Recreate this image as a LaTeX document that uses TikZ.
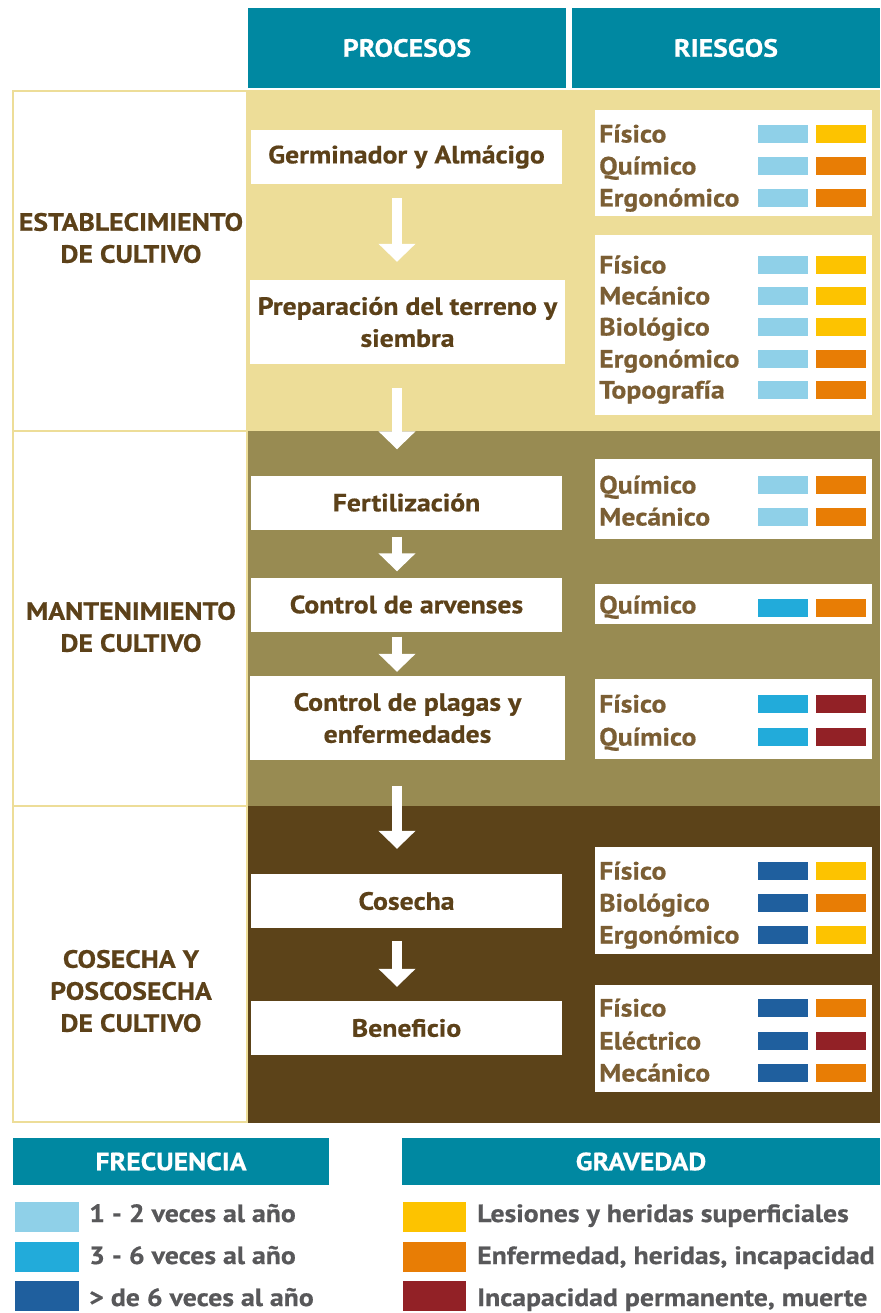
\documentclass[tikz,border=0pt]{standalone}
\usepackage{fontspec}
\setmainfont{PT Sans}[BoldFeatures={FakeStretch=1.11,FakeBold=0.6}]
\usetikzlibrary{arrows.meta}
\definecolor{teal}{HTML}{0088A1}
\definecolor{bandA}{HTML}{EDDD98}
\definecolor{bandB}{HTML}{988B52}
\definecolor{bandC}{HTML}{5C4319}
\definecolor{proctext}{HTML}{5C4119}
\definecolor{risktext}{HTML}{7B5E34}
\definecolor{legtext}{HTML}{58585A}
\definecolor{fqA}{HTML}{8FD0E8}
\definecolor{fqB}{HTML}{22ABDA}
\definecolor{fqC}{HTML}{1F5F9E}
\definecolor{svA}{HTML}{FDC300}
\definecolor{svB}{HTML}{E87D05}
\definecolor{svC}{HTML}{922126}
\newcommand\rrow[5]{%
  \node[risklbl] (rl#1) at (599,#1+17.5+#5) {#2};
  \fill[#3] (758,#1) rectangle (808,#1+18);
  \fill[#4] (816,#1) rectangle (866,#1+18);
}
\begin{document}
\begin{tikzpicture}[x=1pt,y=-1pt,
  every node/.style={font=\bfseries\fontsize{25}{32}\selectfont, inner sep=0pt},
  hdr/.style={fill=teal, text=white, minimum height=80},
  leghdr/.style={fill=teal, text=white, minimum height=47},
  proc/.style={fill=white, text=proctext, align=center, minimum width=311, minimum height=54},
  procbig/.style={proc, minimum width=315, minimum height=84},
  leftbox/.style={draw=bandA, line width=2pt, fill=white},
  lefttext/.style={text=proctext, align=center},
  riskbox/.style={fill=white},
  risklbl/.style={text=risktext, anchor=base west},
  legtxt/.style={text=legtext, anchor=base west, font=\bfseries\fontsize{25}{30}\selectfont},
  flowarrow/.style={draw=white, line width=10pt, -{Triangle[width=36pt,length=18pt]}}
]
\useasboundingbox (0,0) rectangle (880,1313);
% headers
\node[hdr, minimum width=318] (hproc) at (407,48) {PROCESOS};
\node[hdr, minimum width=308] (hrisk) at (726,48) {RIESGOS};
% bands
\fill[bandA] (248,90) rectangle (880,431);
\fill[bandB] (248,431) rectangle (880,806);
\fill[bandC] (248,806) rectangle (880,1123);
% left boxes
\draw[leftbox] (13,91) rectangle (247,431);
\draw[leftbox] (13,431) rectangle (247,806);
\draw[leftbox] (13,806) rectangle (247,1122);
\node[lefttext] (l1) at (131,238) {ESTABLECIMIENTO\\DE CULTIVO};
\node[lefttext] (l2) at (131,627) {MANTENIMIENTO\\DE CULTIVO};
\node[lefttext] (l3) at (131,991) {COSECHA Y\\POSCOSECHA\\DE CULTIVO};
% process boxes
\node[proc] (p1) at (406.5,157) {Germinador y Almácigo};
\node[procbig] (p2) at (407.5,322) {Preparación del terreno y\\siembra};
\node[proc] (p3) at (406.5,502.5) {Fertilización};
\node[proc] (p4) at (406.5,604.5) {Control de arvenses};
\node[procbig] (p5) at (407.5,718) {Control de plagas y\\enfermedades};
\node[proc] (p6) at (406.5,901) {Cosecha};
\node[proc] (p7) at (406.5,1028) {Beneficio};
% arrows
\coordinate (ax) at (397,0);
\draw[flowarrow, shorten <=14pt, shorten >=18pt] (p1.south -| ax) -- (p2.north -| ax);
\draw[flowarrow, shorten <=24pt, shorten >=26pt] (p2.south -| ax) -- (p3.north -| ax);
\draw[flowarrow, shorten <=7pt, shorten >=6pt] (p3.south -| ax) -- (p4.north -| ax);
\draw[flowarrow, shorten <=5pt, shorten >=4pt] (p4.south -| ax) -- (p5.north -| ax);
\draw[flowarrow, shorten <=26pt, shorten >=25pt] (p5.south -| ax) -- (p6.north -| ax);
\draw[flowarrow, shorten <=13pt, shorten >=14pt] (p6.south -| ax) -- (p7.north -| ax);
% risk boxes
\fill[riskbox] (595,110) rectangle (872,216);
\rrow{125}{Físico}{fqA}{svA}{0}
\rrow{157}{Químico}{fqA}{svB}{0}
\rrow{189}{Ergonómico}{fqA}{svB}{0}
\fill[riskbox] (595,235) rectangle (872,415);
\rrow{256}{Físico}{fqA}{svA}{0}
\rrow{287}{Mecánico}{fqA}{svA}{0}
\rrow{318}{Biológico}{fqA}{svA}{0}
\rrow{350}{Ergonómico}{fqA}{svB}{0}
\rrow{381}{Topografía}{fqA}{svB}{0}
\fill[riskbox] (595,459) rectangle (872,539);
\rrow{476}{Químico}{fqA}{svB}{0}
\rrow{508}{Mecánico}{fqA}{svB}{0}
\fill[riskbox] (595,584) rectangle (872,624);
\rrow{599}{Químico}{fqB}{svB}{-3}
\fill[riskbox] (595,679) rectangle (872,759);
\rrow{695}{Físico}{fqB}{svC}{0}
\rrow{728}{Químico}{fqB}{svC}{0}
\fill[riskbox] (595,847) rectangle (872,954);
\rrow{862}{Físico}{fqC}{svA}{0}
\rrow{894}{Biológico}{fqC}{svB}{0}
\rrow{926}{Ergonómico}{fqC}{svA}{0}
\fill[riskbox] (595,985) rectangle (872,1092);
\rrow{999}{Físico}{fqC}{svB}{0}
\rrow{1032}{Eléctrico}{fqC}{svC}{0}
\rrow{1064}{Mecánico}{fqC}{svB}{0}
% legend
\node[leghdr, minimum width=316] (lf) at (171,1161.5) {FRECUENCIA};
\node[leghdr, minimum width=478] (lg) at (641,1161.5) {GRAVEDAD};
\fill[fqA] (15,1202) rectangle (79,1232);
\fill[fqB] (15,1242) rectangle (79,1272);
\fill[fqC] (15,1281) rectangle (79,1311);
\fill[svA] (403,1202) rectangle (466,1232);
\fill[svB] (403,1242) rectangle (466,1272);
\fill[svC] (403,1281) rectangle (466,1311);
\node[legtxt] (f1) at (89,1222) {1 - 2 veces al año};
\node[legtxt] (f2) at (89,1264) {3 - 6 veces al año};
\node[legtxt] (f3) at (89,1306) {> de 6 veces al año};
\node[legtxt] (g1) at (477,1222) {Lesiones y heridas superficiales};
\node[legtxt] (g2) at (477,1264) {Enfermedad, heridas, incapacidad};
\node[legtxt] (g3) at (477,1306) {Incapacidad permanente, muerte};
\end{tikzpicture}
\end{document}
